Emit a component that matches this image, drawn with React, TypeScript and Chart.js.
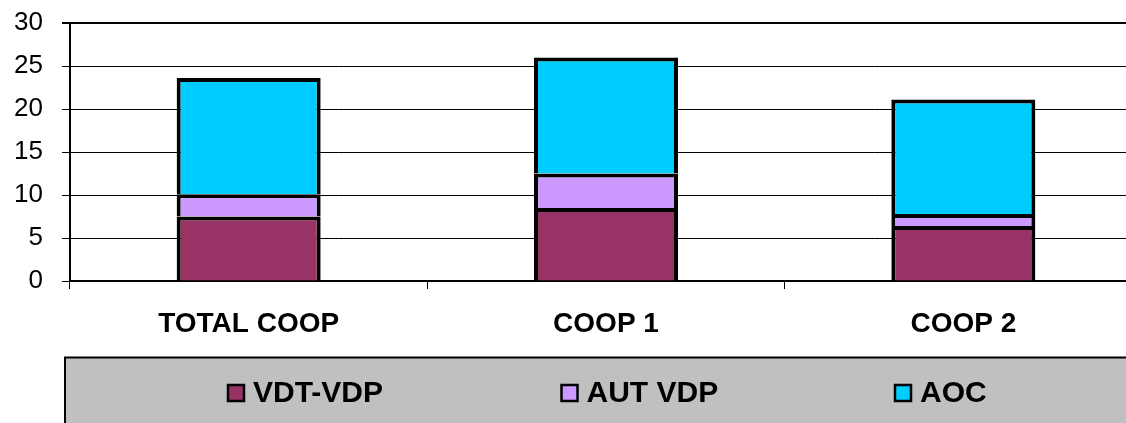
import React, { useEffect, useRef } from "react";
import { Chart, registerables } from "chart.js";

Chart.register(...registerables);

const categories = ["TOTAL COOP", "COOP 1", "COOP 2"];
const vdtVdp = [7.5, 8.5, 6.4];
const autVdp = [2.6, 4.0, 1.4];
const aoc = [13.5, 13.5, 13.3];
const seriesNames = ["VDT-VDP", "AUT VDP", "AOC"];
const seriesColors = ["#993366", "#CC99FF", "#00CCFF"];

const FONT = "'Liberation Sans', Arial, Helvetica, sans-serif";

const boxLegend = {
  id: "boxLegend",
  afterDraw(chart: any) {
    const ctx = chart.ctx;
    ctx.save();
    ctx.fillStyle = "#C0C0C0";
    ctx.fillRect(65, 357.5, chart.width + 20, 120);
    ctx.strokeStyle = "#000";
    ctx.lineWidth = 2;
    ctx.strokeRect(65, 357.5, chart.width + 20, 120);
    const startX = 228;
    const step = 333.5;
    const cy = 393;
    const sq = 16;
    ctx.font = `bold 30px ${FONT}`;
    ctx.textBaseline = "middle";
    ctx.textAlign = "left";
    chart.data.datasets.forEach((ds: any, i: number) => {
      const x = startX + i * step;
      ctx.fillStyle = ds.backgroundColor;
      ctx.fillRect(x, cy - sq / 2, sq, sq);
      ctx.lineWidth = 2.5;
      ctx.strokeStyle = "#000";
      ctx.strokeRect(x, cy - sq / 2, sq, sq);
      ctx.fillStyle = "#000";
      ctx.fillText(ds.label, x + sq + 9, cy + 1);
    });
    ctx.restore();
  },
};

export default function App() {
  const ref = useRef<HTMLCanvasElement | null>(null);
  useEffect(() => {
    if (!ref.current) return;
    const values = [vdtVdp, autVdp, aoc];
    const chart = new Chart(ref.current, {
      type: "bar",
      data: {
        labels: categories,
        datasets: values.map((v, i) => ({
          label: seriesNames[i],
          data: v,
          backgroundColor: seriesColors[i],
          borderColor: "#000",
          borderWidth: 4,
          borderSkipped: "start",
          categoryPercentage: 1,
          barPercentage: 0.403,
        })),
      },
      options: {
        responsive: false,
        animation: false,
        devicePixelRatio: 1,
        layout: { padding: { left: 0, right: 28, top: 23, bottom: 66 } },
        plugins: { legend: { display: false }, tooltip: { enabled: false } },
        scales: {
          x: {
            stacked: true,
            grid: {
              display: true,
              drawOnChartArea: false,
              drawTicks: true,
              tickLength: 8,
              color: "#000",
              lineWidth: 1,
            },
            border: { display: true, color: "#000", width: 2 },
            ticks: {
              color: "#000",
              font: { family: FONT, size: 28, weight: "bold" },
              padding: 18,
              maxRotation: 0,
            },
            afterFit(scale: any) {
              scale.height = 76;
              scale.paddingLeft = 0;
              scale.paddingRight = 0;
            },
          },
          y: {
            stacked: true,
            min: 0,
            max: 30,
            ticks: {
              stepSize: 5,
              color: "#000",
              font: { family: FONT, size: 26 },
              padding: 19,
            },
            grid: {
              color: "#000",
              lineWidth: (c: any) => (c.tick && c.tick.value === 30 ? 2 : 1),
              tickLength: 8,
            },
            border: { display: true, color: "#000", width: 2 },
            afterFit(scale: any) {
              scale.width = 70;
              scale.paddingTop = 0;
              scale.paddingBottom = 0;
            },
          },
        },
      },
      plugins: [boxLegend],
    });
    return () => chart.destroy();
  }, []);
  return (
    <div
      style={{
        position: "absolute",
        left: 0,
        top: 0,
        width: 1126,
        height: 423,
        overflow: "hidden",
        background: "#fff",
      }}
    >
      <canvas ref={ref} width={1170} height={423} style={{ display: "block" }} />
    </div>
  );
}
